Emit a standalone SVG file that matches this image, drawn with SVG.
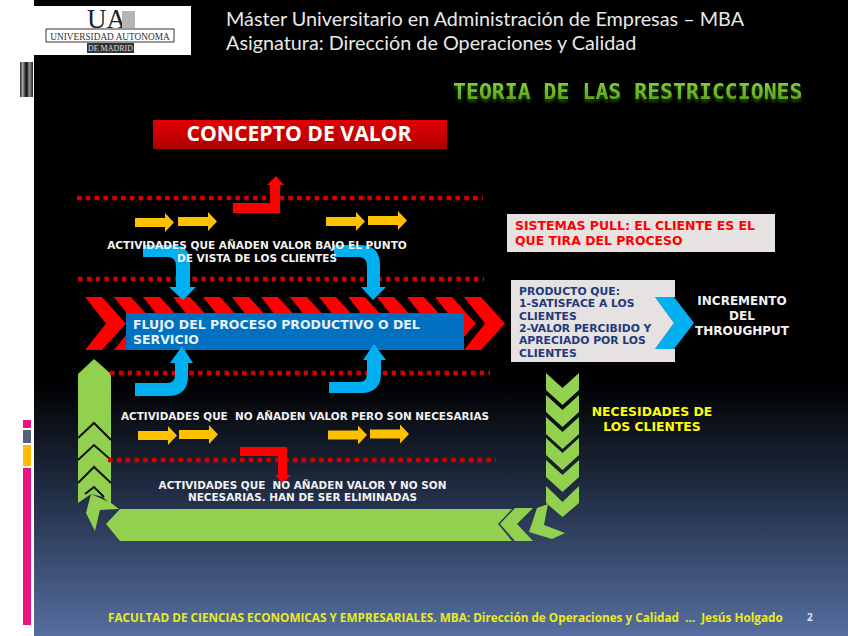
<svg xmlns="http://www.w3.org/2000/svg" width="848" height="636" viewBox="0 0 848 636">
<style>
.b{font-family:"DejaVu Sans",Verdana,sans-serif;font-weight:700}
.w{fill:#f2f2f2;font-size:10.550px}
.s{font-size:10.430px}
.m{text-anchor:middle}
.h{font-family:Lato,"Open Sans",sans-serif;font-size:19.800px;fill:#e8e8e8}
.dot{fill:none;stroke:#d40000;stroke-width:4.5;stroke-dasharray:4.5 4.3}
.y{fill:#ffc000}.c{fill:#00b0f0}.r{fill:#f00}.g{fill:#92d050}
.k{fill:none;stroke:#111;stroke-width:2}
</style>
<defs>
<linearGradient id="bg" x1="0" y1="0" x2="0" y2="1"><stop offset="0" stop-color="#000"/><stop offset=".6" stop-color="#000"/><stop offset=".8" stop-color="#26344f"/><stop offset="1" stop-color="#566f9f"/></linearGradient>
<linearGradient id="cv" x1="0" y1="0" x2="0" y2="1"><stop offset="0" stop-color="#e00000"/><stop offset=".5" stop-color="#c80000"/><stop offset="1" stop-color="#b00000"/></linearGradient>
<linearGradient id="tg" x1="0" y1="0" x2="0" y2="1"><stop offset="0" stop-color="#8ed63c"/><stop offset="1" stop-color="#4f9a14"/></linearGradient>
<linearGradient id="st" x1="0" y1="0" x2="1" y2="0"><stop offset="0" stop-color="#222"/><stop offset=".2" stop-color="#aaa"/><stop offset=".4" stop-color="#333"/><stop offset=".55" stop-color="#111"/><stop offset=".7" stop-color="#999"/><stop offset="1" stop-color="#222"/></linearGradient>
<filter id="sh" x="-5%" y="-30%" width="110%" height="180%"><feDropShadow dx="0" dy="3" stdDeviation="1.5" flood-color="#2f6a08" flood-opacity=".7"/></filter>
<polygon id="ya" class="y" points="0,-4.5 30,-4.5 30,-9.5 39,0 30,9.5 30,4.5 0,4.5"/>
<polygon id="rc" class="r" points="0,0 17,0 41,26.5 17,53 0,53 21,26.5"/>
<polygon id="gc" class="g" points="0,0 16.5,15 33,0 33,17 16.5,32 0,17"/>
</defs>
<rect width="848" height="636" fill="#fff"/>
<rect x="34" width="814" height="636" fill="url(#bg)"/>
<g id="side-bars">
<rect x="20" y="62" width="13" height="35" fill="url(#st)"/>
<rect x="23" y="420" width="8" height="8" fill="#ec1380"/>
<rect x="23" y="430" width="8" height="13" fill="#55607a"/>
<rect x="23" y="445" width="8" height="21" fill="#ffb900"/>
<rect x="23" y="468" width="8" height="157" fill="#ec1380"/>
</g>
<g id="logo">
<rect x="34" y="6" width="157" height="49" fill="#fff"/>
<text x="87" y="28" font-family="Liberation Serif,serif" font-size="27" fill="#222">UA</text>
<rect x="122" y="11" width="13" height="17" fill="#b5b5b5"/>
<path d="M46,29H174M46,42H174M46,29V42M174,29V42" fill="none" stroke="#333"/>
<text x="110" y="39.500" text-anchor="middle" font-family="Liberation Serif,serif" font-size="9.300" fill="#333">UNIVERSIDAD  AUTONOMA</text>
<rect x="87" y="43" width="47" height="10" fill="#333"/>
<text x="110.500" y="51" text-anchor="middle" font-family="Liberation Serif,serif" font-size="8" fill="#ddd">DE MADRID</text>
</g>
<g id="header">
<text class="h" x="226" y="26">Máster Universitario en Administración de Empresas – MBA</text>
<text class="h" x="226" y="50">Asignatura: Dirección de Operaciones y Calidad</text>
</g>
<text id="title" x="453" y="99" font-family="DejaVu Sans Mono,monospace" font-weight="700" font-size="21.500" fill="url(#tg)" filter="url(#sh)">TEORIA DE LAS RESTRICCIONES</text>
<g id="concepto">
<rect x="153" y="120" width="294" height="29" fill="url(#cv)"/>
<text x="299" y="140.500" text-anchor="middle" font-family="Open Sans,sans-serif" font-weight="700" font-size="21.200" fill="#fff">CONCEPTO DE VALOR</text>
</g>
<g id="flujo">
<use href="#rc" x="85" y="297"/><use href="#rc" x="114" y="297"/><use href="#rc" x="143" y="297"/><use href="#rc" x="173" y="297"/><use href="#rc" x="203" y="297"/><use href="#rc" x="232" y="297"/><use href="#rc" x="261" y="297"/><use href="#rc" x="290" y="297"/><use href="#rc" x="319" y="297"/><use href="#rc" x="348" y="297"/><use href="#rc" x="377" y="297"/><use href="#rc" x="407" y="297"/><use href="#rc" x="435" y="297"/><use href="#rc" x="464" y="297"/>
<rect x="126" y="313" width="338" height="37" fill="#0070c0"/>
</g>
<g id="connectors">
<use href="#gc" x="546" y="373"/><use href="#gc" x="546" y="395"/><use href="#gc" x="546" y="417"/><use href="#gc" x="546" y="438"/><use href="#gc" x="546" y="460"/>
<polygon class="g" points="546,486 562.500,502 579,486 579,503 562.500,517 546,503"/>
<polygon class="g" points="537,508 548,504 544,525 565,533 552,539 529,532"/>
<polygon class="g" points="500,524 515,508 533,508 517,524 533,541 515,541"/>
<polygon class="g" points="106,524 120,509 512,509 498,524 512,541 120,541"/>
<polygon class="g" points="94,359 111,374 111,505 103,497 91,494 78,503 78,374"/>
<polygon class="g" points="91,494 111,503 119,509 100,510 95,531 86,513"/>
<path class="k" d="M78,438L94,423L111,440M78,460L94,445L111,460M78,483L94,467L111,483M85,494L94,487L104,497"/>
<path class="dot" d="M77,198H483M78,279H484M110,373H490M108,460H496"/>
<path class="r" d="M233,203H270V185H267L276,176L284,185H280V213H233Z"/>
<path class="r" d="M240,447H287V475H291L283,483L275,475H278V456H240Z"/>
<use href="#ya" x="135" y="222.500"/><use href="#ya" x="178" y="221.500"/><use href="#ya" x="326" y="221.500"/><use href="#ya" x="368" y="220.500"/>
<use href="#ya" x="138" y="435.500"/><use href="#ya" x="179" y="434.500"/><use href="#ya" x="328" y="435"/><use href="#ya" x="370" y="434"/>
<path class="c" d="M143,245H172Q190,245 190,263V287H196L183,300L169,287H176V266Q176,257 167,257H143Z"/>
<path class="c" d="M334,245H360Q380,245 380,265V287H386L373,300L361,287H367V266Q367,257 358,257H334Z"/>
<path class="c" d="M135,383H167Q175,383 175,375V363H170L182,346L193,363H188V376Q188,396 168,396H135Z"/>
<path class="c" d="M329,382H359Q367,382 367,374V360H363L374,344L386,360H381V373Q381,393 361,393H329Z"/>
<polygon class="c" points="655,297 674,297 694,323 674,349 655,349 674,323"/>
</g>
<g id="labels">
<text class="b w m" x="257" y="249">ACTIVIDADES QUE AÑADEN VALOR BAJO EL PUNTO</text>
<text class="b w m" x="257" y="262">DE VISTA DE LOS CLIENTES</text>
<text class="b w s" x="121" y="420" xml:space="preserve">ACTIVIDADES QUE  NO AÑADEN VALOR PERO SON NECESARIAS</text>
<text class="b w s m" x="302.500" y="489" xml:space="preserve">ACTIVIDADES QUE  NO AÑADEN VALOR Y NO SON</text>
<text class="b w s m" x="302.500" y="501">NECESARIAS. HAN DE SER ELIMINADAS</text>
<text class="b" x="133" y="329" font-size="12.500" fill="#e8f1fa">FLUJO DEL PROCESO PRODUCTIVO O DEL</text>
<text class="b" x="133" y="344" font-size="12.500" fill="#e8f1fa">SERVICIO</text>
<text class="b m" x="652" y="416" font-size="12.400" fill="#ff0">NECESIDADES DE</text>
<text class="b m" x="652" y="431" font-size="12.400" fill="#ff0">LOS CLIENTES</text>
<text class="b m" x="742" y="305" font-size="12" fill="#f2f2f2">INCREMENTO</text>
<text class="b m" x="742" y="320" font-size="12" fill="#f2f2f2">DEL</text>
<text class="b m" x="742" y="335" font-size="12" fill="#f2f2f2">THROUGHPUT</text>
</g>
<g id="pull">
<rect x="507" y="214" width="268" height="38" fill="#e6e2e2"/>
<text class="b" x="515" y="230" font-size="12.450" fill="#f00">SISTEMAS PULL: EL CLIENTE ES EL</text>
<text class="b" x="515" y="245" font-size="12.450" fill="#f00">QUE TIRA DEL PROCESO</text>
</g>
<g id="producto">
<path d="M511,280H675V297H655L674,323L655,349H675V362H511Z" fill="#e6e2e2"/>
<g class="b" font-size="10.800" fill="#1f3a7a">
<text x="519" y="295">PRODUCTO QUE:</text>
<text x="519" y="307">1-SATISFACE A LOS</text>
<text x="519" y="320">CLIENTES</text>
<text x="519" y="332">2-VALOR PERCIBIDO Y</text>
<text x="519" y="344">APRECIADO POR LOS</text>
<text x="519" y="357">CLIENTES</text>
</g>
</g>
<g id="footer">
<text x="108" y="622" font-family="Open Sans,sans-serif" font-weight="700" font-size="11.750" fill="#eaea20" xml:space="preserve">FACULTAD DE CIENCIAS ECONOMICAS Y EMPRESARIALES. MBA: Dirección de Operaciones y Calidad  …  Jesús Holgado</text>
<text x="807" y="621" font-family="Open Sans,sans-serif" font-weight="700" font-size="10" fill="#dde6f5">2</text>
</g>
</svg>
